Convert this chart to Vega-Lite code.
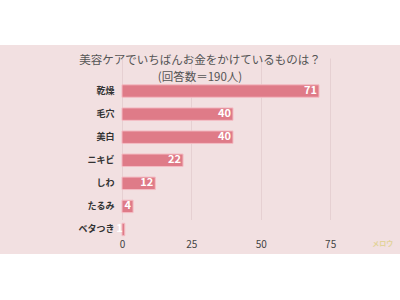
{
  "$schema": "https://vega.github.io/schema/vega-lite/v6.json",
  "width": 400,
  "height": 209,
  "autosize": {"type": "none"},
  "padding": {"top": 45, "left": 0, "right": 0, "bottom": 46},
  "background": "#ffffff",
  "config": {
    "view": {"fill": "#f2e0e1", "stroke": null},
    "font": "Noto Sans CJK JP"
  },
  "title": {
    "text": ["美容ケアでいちばんお金をかけているものは？", "(回答数＝190人)"],
    "fontSize": 11.5,
    "fontWeight": "normal",
    "color": "#555555",
    "anchor": "middle",
    "lineHeight": 17,
    "offset": -38,
    "font": "Noto Sans CJK JP"
  },
  "data": {
    "values": [
      {"item": "乾燥", "count": 71},
      {"item": "毛穴", "count": 40},
      {"item": "美白", "count": 40},
      {"item": "ニキビ", "count": 22},
      {"item": "しわ", "count": 12},
      {"item": "たるみ", "count": 4},
      {"item": "ベタつき", "count": 1}
    ]
  },
  "encoding": {
    "y": {
      "field": "item",
      "type": "nominal",
      "sort": null,
      "scale": {"range": [34.5, 196], "paddingInner": 0.46, "paddingOuter": 0.23},
      "axis": {
        "title": null,
        "offset": -122,
        "domain": false,
        "ticks": false,
        "labelPadding": 8,
        "labelFontSize": 9,
        "labelFontWeight": "bold",
        "labelColor": "#333333"
      }
    },
    "x": {
      "field": "count",
      "type": "quantitative",
      "scale": {"domain": [-43.96, 100.18], "nice": false, "zero": false},
      "axis": {
        "title": null,
        "values": [0, 25, 50, 75],
        "offset": -17,
        "domain": false,
        "ticks": false,
        "labelPadding": 2,
        "labelFontSize": 10,
        "labelColor": "#444444",
        "grid": true,
        "gridColor": "#e6d0d2",
        "gridWidth": 1
      }
    }
  },
  "layer": [
    {
      "mark": {"type": "bar", "color": "#df7b88", "stroke": "#f4bcc4", "strokeWidth": 1},
      "encoding": {"x2": {"datum": 0}}
    },
    {
      "mark": {"type": "text", "align": "right", "dx": -2, "color": "#ffffff", "fontSize": 11, "fontWeight": "bold"},
      "encoding": {"text": {"field": "count", "type": "quantitative"}}
    },
    {
      "data": {"values": [{"logo": "メロウ", "xpos": 94, "row": "ベタつき"}]},
      "mark": {"type": "text", "dy": 15, "color": "#e2d39a", "fontSize": 7, "fontWeight": "bold"},
      "encoding": {
        "x": {"field": "xpos", "type": "quantitative"},
        "y": {"field": "row", "type": "nominal"},
        "text": {"field": "logo", "type": "nominal"}
      }
    }
  ]
}
